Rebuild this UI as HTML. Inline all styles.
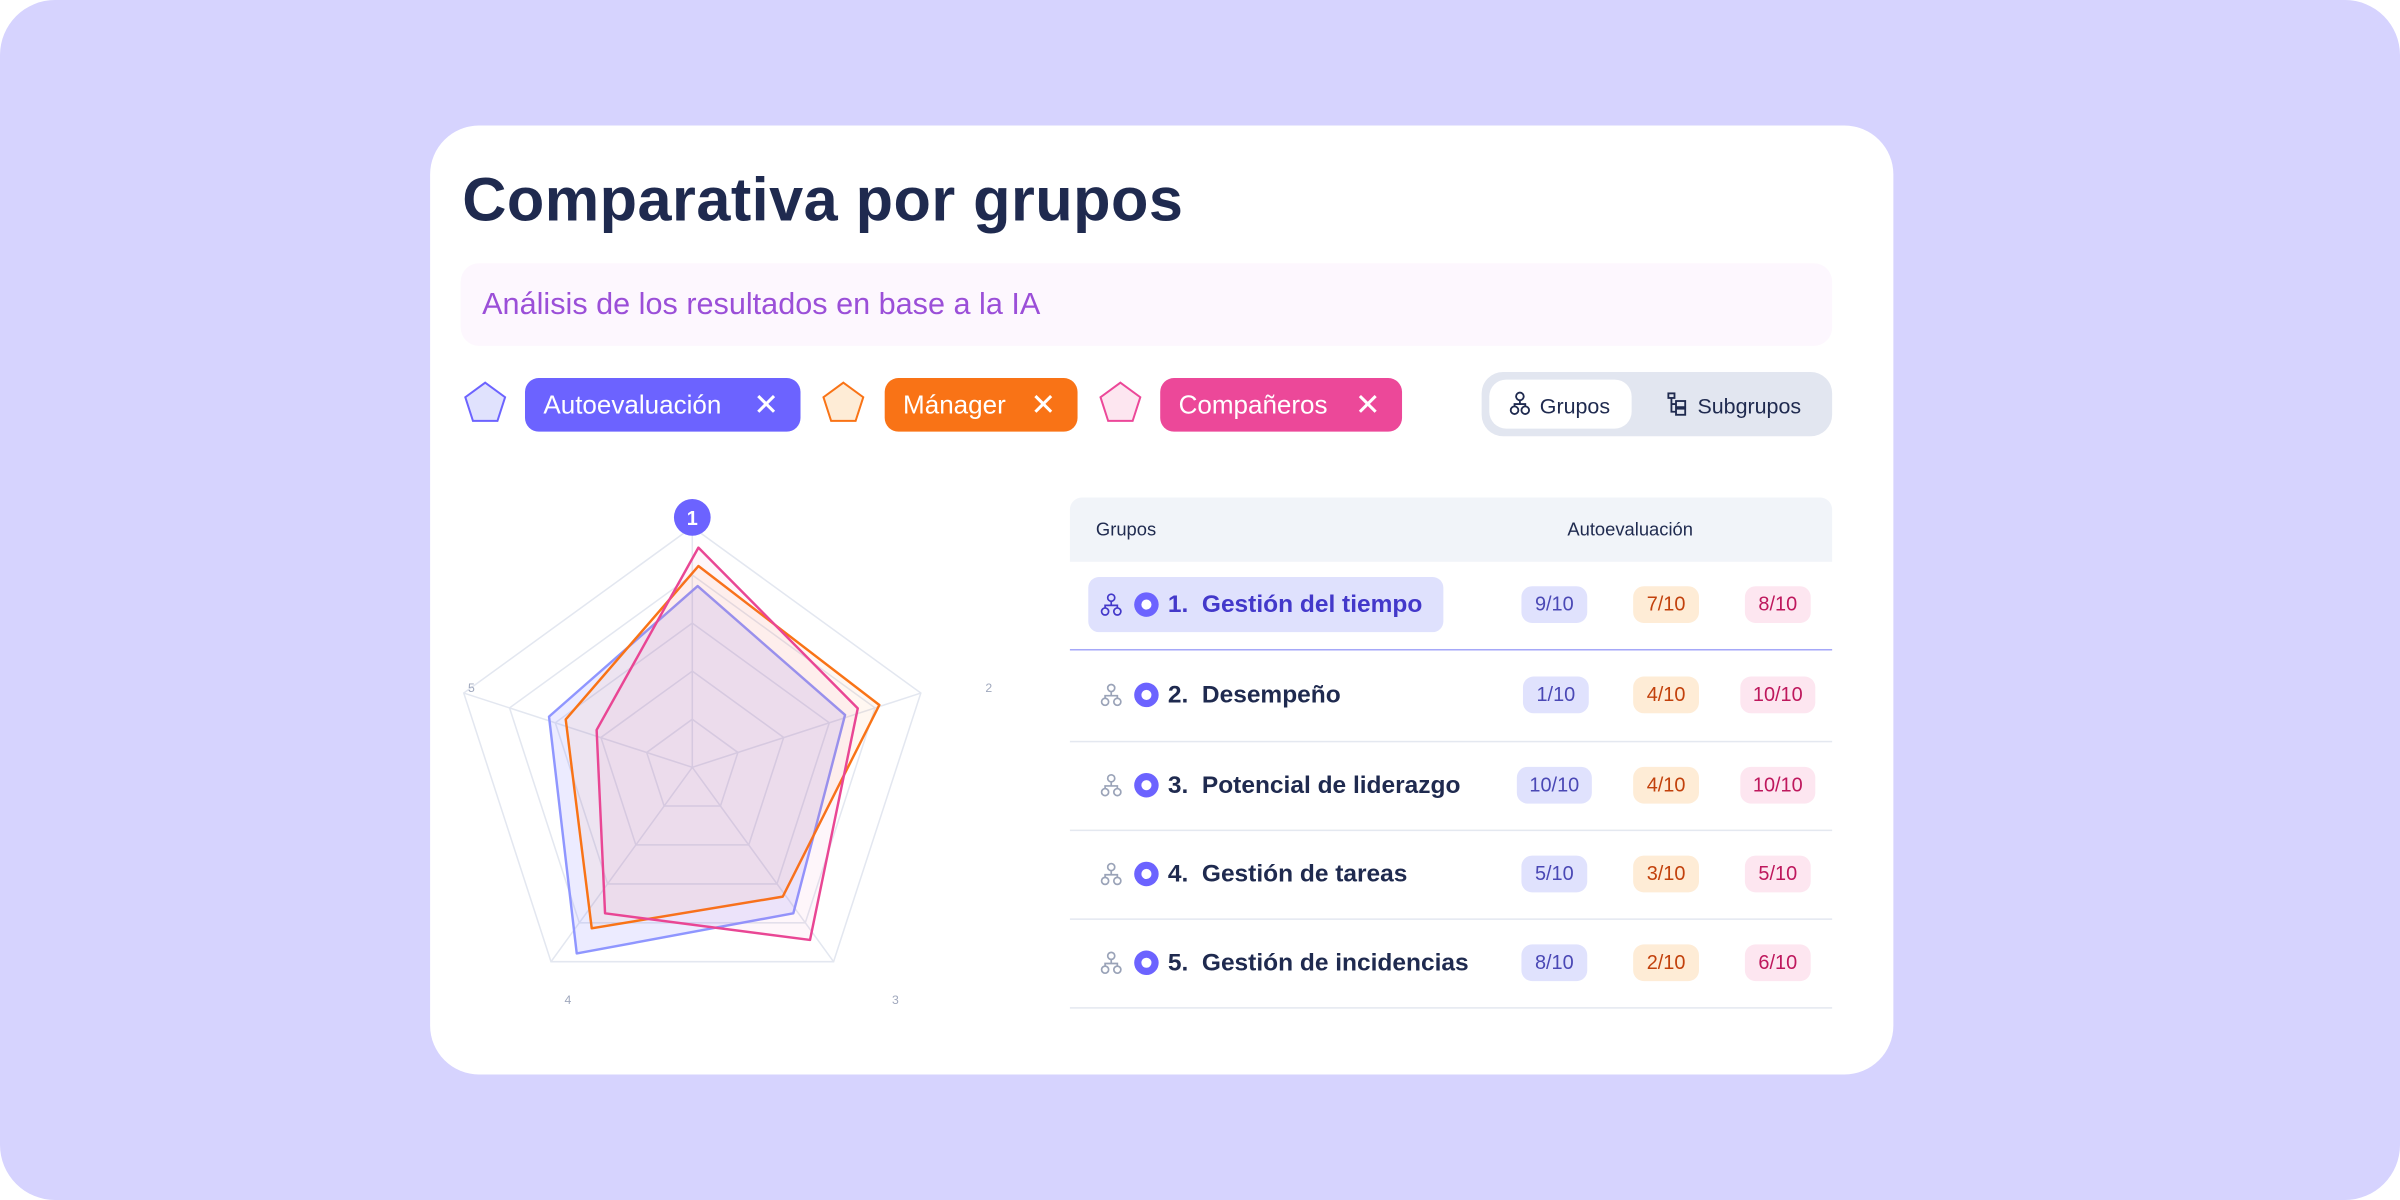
<!DOCTYPE html>
<html><head><meta charset="utf-8"><style>
html,body{margin:0;padding:0;width:2400px;height:1200px;overflow:hidden;background:#fff;}
#s{position:absolute;left:0;top:0;width:1568px;height:784px;transform:scale(1.530612);transform-origin:0 0;font-family:"Liberation Sans",sans-serif;}
.bg{position:absolute;left:0;top:0;width:1568px;height:784px;background:#d6d3fe;border-radius:36px;}
.card{position:absolute;left:281px;top:82px;width:956px;height:620px;background:#fff;border-radius:32px;}
.a{position:absolute;white-space:nowrap;}
.chip{position:absolute;top:247px;height:35px;border-radius:9px;color:#fff;font-size:17px;line-height:36px;padding-left:12px;box-sizing:border-box;}
.badge{position:absolute;height:24px;border-radius:7px;font-size:13px;line-height:24px;text-align:center;}
.b1{background:#e0e2fd;color:#4a48b5;width:43px;}
.b2{background:#feecd6;color:#c2410c;width:43px;}
.b3{background:#fde6f0;color:#be185d;width:43px;}
.row{position:absolute;left:763px;font-size:16px;font-weight:bold;color:#1f2a4f;}
.sep{position:absolute;left:699px;width:498px;height:1.5px;background:#e4e8f0;}
</style></head><body><div id="s">
<div class="bg"></div>
<div class="card"></div>
<div class="a" style="left:302px;top:109px;font-size:40px;font-weight:bold;color:#1f2a4f;letter-spacing:0.3px;">Comparativa por grupos</div>
<div class="a" style="left:301px;top:172px;width:896px;height:54px;background:#fdf7fe;border-radius:12px;"></div>
<div class="a" style="left:315px;top:188px;font-size:20px;color:#9b4fd8;">Análisis de los resultados en base a la IA</div>

<svg class="a" style="left:0;top:0" width="1568" height="784">
<polygon points="317,250 330,259.5 325,275 309,275 304,259.5" fill="#e0e2fd" stroke="#6c63ff" stroke-width="1.3"/>
<polygon points="551,250 564,259.5 559,275 543,275 538,259.5" fill="#feecd6" stroke="#f97316" stroke-width="1.3"/>
<polygon points="732,250 745,259.5 740,275 724,275 719,259.5" fill="#fde6f0" stroke="#ec4899" stroke-width="1.3"/>
</svg>
<div class="chip" style="left:343px;width:180px;background:#6c63ff;">Autoevaluación <span style="position:absolute;right:14px;font-size:20px;">✕</span></div>
<div class="chip" style="left:578px;width:126px;background:#f97316;">Mánager <span style="position:absolute;right:14px;font-size:20px;">✕</span></div>
<div class="chip" style="left:758px;width:158px;background:#ec4899;">Compañeros <span style="position:absolute;right:14px;font-size:20px;">✕</span></div>

<div class="a" style="left:968px;top:243px;width:229px;height:42px;background:#e2e6f0;border-radius:14px;"></div>
<div class="a" style="left:973px;top:248px;width:93px;height:32px;background:#fff;border-radius:11px;"></div>
<div class="a" style="left:1006px;top:257px;font-size:14px;color:#1f2a4f;">Grupos</div>
<div class="a" style="left:1109px;top:257px;font-size:14px;color:#1f2a4f;">Subgrupos</div>
<svg class="a" style="left:0;top:0" width="1568" height="784" fill="none" stroke="#1f2a4f" stroke-width="1.2">
<circle cx="993" cy="259" r="2.5"/><circle cx="989.5" cy="268" r="2.5"/><circle cx="996.5" cy="268" r="2.5"/><path d="M993 261.5v2.5M989.5 265.5v-1.5h7v1.5"/>
<rect x="1090" y="257" width="4" height="3"/><path d="M1092 260v9h3M1092 264h3"/><rect x="1095" y="262" width="6" height="4"/><rect x="1095" y="267" width="6" height="4"/>
</svg>

<svg class="a" style="left:0;top:0" width="1568" height="784">
<g fill="none" stroke="#e3e7f0" stroke-width="1">
<polygon points="452.3,344.3 601.6,452.8 544.6,628.3 360,628.3 303,452.8"/>
<polygon points="452.3,375.7 571.7,462.5 526.1,602.9 378.5,602.9 332.9,462.5"/>
<polygon points="452.3,407.1 541.8,472.2 507.6,577.5 397,577.5 362.8,472.2"/>
<polygon points="452.3,438.5 512,481.8 489.2,552.0 415.4,552.0 392.6,481.8"/>
<polygon points="452.3,469.9 482.1,491.6 470.7,526.6 433.9,526.6 422.5,491.6"/>
<path d="M452.3,501.3L452.3,344.3M452.3,501.3L601.6,452.8M452.3,501.3L544.6,628.3M452.3,501.3L360,628.3M452.3,501.3L303,452.8"/>
</g>
<g stroke-linejoin="round" stroke-width="1.6">
<polygon points="455.8,382.9 552.1,467.1 518.3,596.7 376.8,622.9 358.7,468.2" fill="rgba(108,99,255,0.13)" stroke="#8f96ff"/>
<polygon points="456.3,369.8 574.5,460.6 511.4,585.8 386.6,606.5 369.6,470" fill="rgba(249,115,22,0.06)" stroke="#f97316"/>
<polygon points="456.3,357.8 560.4,462.8 529.2,614.1 395.3,596.7 389.8,476.9" fill="rgba(236,72,153,0.05)" stroke="#e94694"/>
</g>
<circle cx="452.3" cy="338" r="12" fill="#6c63ff"/>
<text x="452.3" y="343" font-size="13" font-weight="bold" fill="#fff" text-anchor="middle" font-family="Liberation Sans">1</text>
<g font-size="8" fill="#a0a8bd" font-family="Liberation Sans" text-anchor="middle">
<text x="308" y="452">5</text><text x="646" y="452">2</text><text x="371" y="656">4</text><text x="585" y="656">3</text>
</g>
</svg>

<div class="a" style="left:699px;top:325px;width:498px;height:42px;background:#f1f4f9;border-radius:8px 8px 0 0;"></div>
<div class="a" style="left:716px;top:339px;font-size:12px;color:#1f2a4f;">Grupos</div>
<div class="a" style="left:1024px;top:339px;font-size:12px;color:#1f2a4f;">Autoevaluación</div>
<div class="a" style="left:711px;top:377px;width:232px;height:36px;background:#dfe1fd;border-radius:7px;"></div>
<div class="a" style="left:699px;top:423.5px;width:498px;height:1.5px;background:#a5a8f8;"></div>
<div class="sep" style="top:483.5px"></div><div class="sep" style="top:541.5px"></div><div class="sep" style="top:599.5px"></div><div class="sep" style="top:657.5px"></div>

<svg class="a" style="left:0;top:0" width="1568" height="784">
<defs><g id="ic" fill="none" stroke-width="1.1"><circle cx="0" cy="-4.5" r="2.3"/><circle cx="-4" cy="4.5" r="2.3"/><circle cx="4" cy="4.5" r="2.3"/><path d="M0-2.2v2.7M-4 2.2v-1.7h8v1.7"/></g></defs>
<use href="#ic" x="726" y="395" stroke="#4338ca"/>
<use href="#ic" x="726" y="454" stroke="#9aa3b8"/>
<use href="#ic" x="726" y="513" stroke="#9aa3b8"/>
<use href="#ic" x="726" y="571" stroke="#9aa3b8"/>
<use href="#ic" x="726" y="629" stroke="#9aa3b8"/>
<g fill="#6c63ff"><circle cx="749" cy="395" r="8"/><circle cx="749" cy="454" r="8"/><circle cx="749" cy="513" r="8"/><circle cx="749" cy="571" r="8"/><circle cx="749" cy="629" r="8"/></g>
<g fill="#fff"><circle cx="749" cy="395" r="3.3"/><circle cx="749" cy="454" r="3.3"/><circle cx="749" cy="513" r="3.3"/><circle cx="749" cy="571" r="3.3"/><circle cx="749" cy="629" r="3.3"/></g>
</svg>
<div class="row" style="top:387px;color:#4338ca;">1.&nbsp; Gestión del tiempo</div>
<div class="row" style="top:446px;">2.&nbsp; Desempeño</div>
<div class="row" style="top:505px;">3.&nbsp; Potencial de liderazgo</div>
<div class="row" style="top:563px;">4.&nbsp; Gestión de tareas</div>
<div class="row" style="top:621px;">5.&nbsp; Gestión de incidencias</div>

<div class="badge b1" style="left:994px;top:383px">9/10</div><div class="badge b2" style="left:1067px;top:383px">7/10</div><div class="badge b3" style="left:1140px;top:383px">8/10</div>
<div class="badge b1" style="left:995px;top:442px">1/10</div><div class="badge b2" style="left:1067px;top:442px">4/10</div><div class="badge b3" style="left:1137px;top:442px;width:49px">10/10</div>
<div class="badge b1" style="left:991px;top:501px;width:49px">10/10</div><div class="badge b2" style="left:1067px;top:501px">4/10</div><div class="badge b3" style="left:1137px;top:501px;width:49px">10/10</div>
<div class="badge b1" style="left:994px;top:559px">5/10</div><div class="badge b2" style="left:1067px;top:559px">3/10</div><div class="badge b3" style="left:1140px;top:559px">5/10</div>
<div class="badge b1" style="left:994px;top:617px">8/10</div><div class="badge b2" style="left:1067px;top:617px">2/10</div><div class="badge b3" style="left:1140px;top:617px">6/10</div>
</div></body></html>
